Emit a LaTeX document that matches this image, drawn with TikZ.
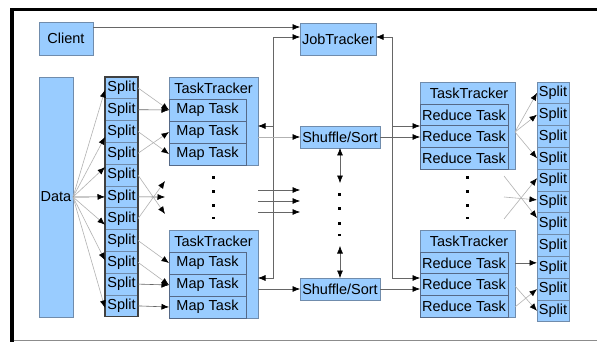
\documentclass[tikz,border=0pt]{standalone}
\usepackage{fontspec}
\setmainfont{Liberation Sans}
\usetikzlibrary{arrows.meta}
\definecolor{boxfill}{RGB}{153,204,255}
\definecolor{boxline}{RGB}{112,140,172}
\definecolor{taskline}{RGB}{85,105,135}
\newcommand\labfont{\fontsize{14.5}{16}\selectfont}

\begin{document}
\begin{tikzpicture}[x=1pt,y=-1pt,
  box/.style={draw=boxline, fill=boxfill, line width=0.8pt, inner sep=0pt, outer sep=0pt, anchor=north west, font=\labfont},
  task/.style={box, draw=taskline},
  splitbox/.style={box, minimum width=33pt, minimum height=21.8pt},
  rsplit/.style={box, minimum width=32pt, minimum height=21.8pt},
  maptask/.style={task, minimum width=77pt, minimum height=22pt},
  redtask/.style={task, minimum width=88pt, minimum height=21.7pt},
  lbl/.style={inner sep=0pt, font=\labfont},
  lite/.style={draw=black!30, line width=0.6pt},
  dark/.style={draw=black!60, line width=0.6pt},
  arr/.style={-{Latex[length=7.5pt,width=6pt,color=black]}},
  dbl/.style={{Latex[length=7.5pt,width=6pt,color=black]}-{Latex[length=7.5pt,width=6pt,color=black]}},
  pip/.style={fill=black}
]
\useasboundingbox (0,0) rectangle (597,342);
\fill[white] (0,0) rectangle (597,342);

% frame
\fill[black] (9.5,8.5) rectangle (13.5,342);
\fill[black] (9.5,8.5) rectangle (597,11.5);
\draw[black!45, line width=1pt] (13.5,340.5) -- (597,340.5);

% client, job tracker, input data
\node[box, minimum width=54pt, minimum height=33pt] (client) at (39,22) {Client};
\node[box, minimum width=76pt, minimum height=32pt] (jt) at (300,23) {JobTracker};
\node[box, minimum width=34pt, minimum height=240pt] (data) at (39,77) {Data};

% input splits
\foreach \k in {1,...,11} {
  \pgfmathsetmacro\yy{77+21.8*(\k-1)}
  \node[splitbox] (s\k) at (105,\yy) {Split};
}
\draw[black!75, line width=1.2pt] (s1.north west) rectangle (s11.south east);

% output splits
\foreach \k in {1,...,11} {
  \pgfmathsetmacro\yy{82+21.8*(\k-1)}
  \node[rsplit] (q\k) at (537,\yy) {Split};
}

% map side task trackers
\node[box, minimum width=89pt, minimum height=88pt] (tt1) at (169,77) {};
\node[lbl] (tt1h) at (213.5,88) {TaskTracker};
\node[maptask] (m11) at (169,99) {Map Task};
\node[maptask] (m12) at (169,121) {Map Task};
\node[maptask] (m13) at (169,143) {Map Task};

\node[box, minimum width=89pt, minimum height=88pt] (tt2) at (169,230) {};
\node[lbl] (tt2h) at (213.5,241) {TaskTracker};
\node[maptask] (m21) at (169,252) {Map Task};
\node[maptask] (m22) at (169,274) {Map Task};
\node[maptask] (m23) at (169,296) {Map Task};

% reduce side task trackers
\node[box, minimum width=95pt, minimum height=87pt] (tt3) at (420,82) {};
\node[lbl] (tt3h) at (469,93) {TaskTracker};
\node[redtask] (rt31) at (420,104) {Reduce Task};
\node[redtask] (rt32) at (420,125.7) {Reduce Task};
\node[redtask] (rt33) at (420,147.4) {Reduce Task};

\node[box, minimum width=95pt, minimum height=87pt] (tt4) at (420,230) {};
\node[lbl] (tt4h) at (469,241) {TaskTracker};
\node[redtask] (rt41) at (420,252) {Reduce Task};
\node[redtask] (rt42) at (420,273.7) {Reduce Task};
\node[redtask] (rt43) at (420,295.4) {Reduce Task};

% shuffle stages
\node[box, minimum width=80pt, minimum height=22pt] (sh1) at (300,126) {Shuffle/Sort};
\node[box, minimum width=80pt, minimum height=22pt] (sh2) at (300,278) {Shuffle/Sort};

% job tracker links
\draw[dark,arr] (client.east |- 0,27) -- (jt.west |- 0,27);
\draw[dark,dbl] (jt.west |- 0,37) -- (273,37) -- (273,278) -- (tt2.east |- 0,278);
\draw[dark,arr] (273,126) -- (tt1.east |- 0,126);
\draw[dark,dbl] (jt.east |- 0,37) -- (392,37) -- (392,278) -- (tt4.west |- 0,278);
\draw[dark,arr] (392,126) -- (tt3.west |- 0,126);

% map output to shuffle, shuffle to reduce
\draw[lite,arr] (tt1.east |- sh1.west) -- (sh1.west);
\draw[dark,arr] (sh1.east) -- (tt3.west |- sh1.east);
\draw[dark,arr] (tt2.east |- sh2.west) -- (sh2.west);
\draw[dark,arr] (sh2.east) -- (tt4.west |- sh2.east);
\foreach \yy in {190,201,212} \draw[dark,arr] (258,\yy) -- (300,\yy);

\draw[dark,dbl] (sh1.south) -- (sh1.south |- 0,183);
\draw[dark,dbl] (sh2.north |- 0,246) -- (sh2.north);

% data to splits
\draw[lite,arr] (data.east) -- ([yshift=-2pt]s1.west);
\draw[lite,arr] (data.east) -- ([yshift=-5.5pt]s3.west);
\draw[lite,arr] (data.east) -- ([yshift=8pt]s5.west);
\draw[dark,arr] (data.east) -- (s6.west);
\draw[lite,arr] (data.east) -- ([yshift=-6pt]s7.west);
\draw[lite,arr] (data.east) -- ([yshift=2pt]s9.west);
\draw[lite,arr] (data.east) -- ([yshift=-2pt]s11.west);

% splits to map tasks
\draw[lite,arr] (s1.east) -- (m11.west);
\draw[dark,arr] (s2.east) -- (m11.west);
\draw[lite,arr] (s3.east) -- (m13.west);
\draw[lite,arr] (s4.east) -- (m12.west);
\draw[lite,arr] (s5.east) -- (165,214);
\draw[dark,arr] (s6.east) -- (165,197);
\draw[lite,arr] (s7.east) -- (165,181);
\draw[lite,arr] (s8.east) -- (m21.west);
\draw[lite,arr] (s9.east) -- (m22.west);
\draw[dark,arr] (s10.east) -- (m22.west);
\draw[dark,arr] (s11.east) -- (m23.west);

% reduce tasks to output splits
\draw[lite,arr] ([yshift=-6.5pt]tt3.east) -- (q1.west);
\draw[lite,arr] ([yshift=-6.5pt]tt3.east) -- (q2.west);
\draw[lite,arr] ([yshift=-6.5pt]tt3.east) -- (q4.west);
\draw[lite,arr] (504,176) -- ([yshift=5.7pt]q7.west);
\draw[lite,arr] (504,197) -- ([yshift=2pt]q6.west);
\draw[lite,arr] (504,219) -- ([yshift=2pt]q5.west);
\draw[dark,arr] (tt4.east |- rt41.east) -- (q9.west |- rt41.east);
\draw[lite,arr] (tt4.east |- 0,286) -- (q11.west);
\draw[lite,arr] (tt4.east |- 0,307) -- (q10.west);

% ellipsis marks
\foreach \xx/\ya/\yb/\yc/\yd in {213/177/191/205/218, 467/177/191/205/218, 339/194/208/223/235} {
  \fill[pip] (\xx-1.5,\ya-1.5) rectangle (\xx+1.5,\ya+1.5);
  \fill[pip] (\xx-1.5,\yb-1.5) rectangle (\xx+1.5,\yb+1.5);
  \fill[pip] (\xx-1.5,\yc-1.5) rectangle (\xx+1.5,\yc+1.5);
  \fill[pip] (\xx-1.5,\yd-0.6) rectangle (\xx+1.5,\yd+0.6);
}
\end{tikzpicture}
\end{document}
